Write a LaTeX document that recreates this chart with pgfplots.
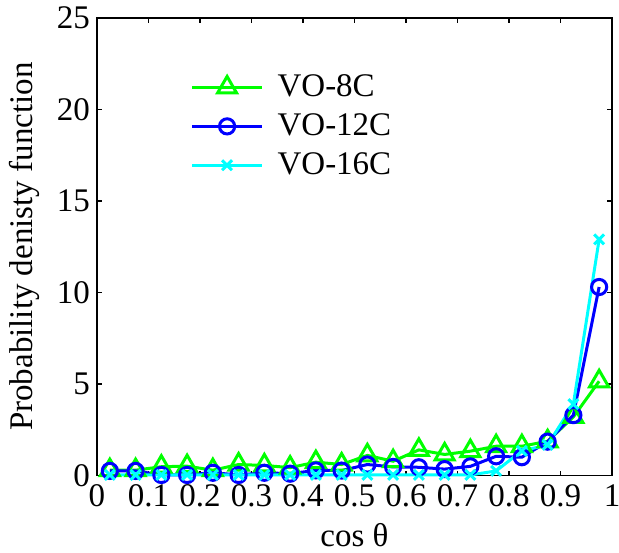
\documentclass[border=0pt]{standalone}
\usepackage{fontspec}
\setmainfont{Liberation Serif}
\usepackage{pgfplots}
\pgfplotsset{compat=1.18}
\definecolor{mgreen}{rgb}{0,1,0}
\definecolor{mblue}{rgb}{0,0,1}
\definecolor{mcyan}{rgb}{0,1,1}
\pgfplotstableread{
x g b c
0.025 0.29 0.25 0.03
0.075 0.29 0.25 0.03
0.125 0.48 0.03 0.03
0.175 0.51 0.03 0.03
0.225 0.29 0.15 0.03
0.275 0.60 0.03 0.03
0.325 0.55 0.15 0.03
0.375 0.43 0.10 0.03
0.425 0.73 0.28 0.03
0.475 0.60 0.27 0.03
0.525 1.10 0.60 0.03
0.575 0.78 0.47 0.03
0.625 1.40 0.45 0.03
0.675 1.15 0.35 0.03
0.725 1.33 0.50 0.03
0.775 1.60 1.05 0.25
0.825 1.60 1.00 1.35
0.875 1.87 1.85 1.67
0.925 3.20 3.30 3.90
0.975 5.15 10.30 12.90
}\datatable
\begin{document}
\begin{tikzpicture}[font=\fontsize{16.5pt}{19pt}\selectfont]
\begin{axis}[
  scale only axis, width=257.5pt, height=228.75pt,
  xmin=0, xmax=1, ymin=0, ymax=25,
  xtick={0,0.1,0.2,0.3,0.4,0.5,0.6,0.7,0.8,0.9,1},
  xticklabels={0,0.1,0.2,0.3,0.4,0.5,0.6,0.7,0.8,0.9,1},
  ytick={0,5,10,15,20,25},
  /pgf/number format/assume math mode=true,
  tick align=inside, major tick length=2.5pt,
  tick style={black, line width=0.6pt},
  axis line style={black, line width=0.6pt},
  xticklabel style={yshift=-1pt},
  xlabel={cos θ}, ylabel={Probability denisty function},
  xlabel style={at={(axis description cs:0.5,-0.13)}, anchor=center},
  ylabel style={at={(axis description cs:-0.14,0.5)}, anchor=center},
  clip=false,
  legend cell align=left,
  legend style={draw=none, fill=none, at={(axis description cs:0.181,0.885)}, anchor=north west, inner sep=0pt, row sep=3pt,
     nodes={inner sep=2pt}},
  legend image code/.code={\draw[mark repeat=2,mark phase=2] plot coordinates {(0pt,0pt)(17.5pt,0pt)(35pt,0pt)} ++(5pt,0pt);},
]
\addplot[mgreen, line width=1.5pt, mark=triangle, mark size=5.5pt, mark options={solid, line width=1.5pt}] table[x=x,y=g]{\datatable};
\addlegendentry{VO-8C}
\addplot[mblue, line width=1.5pt, mark=o, mark size=3.8pt, mark options={solid, line width=1.5pt}] table[x=x,y=b]{\datatable};
\addlegendentry{VO-12C}
\addplot[mcyan, line width=1.5pt, mark=x, mark size=3.5pt, mark options={solid, line width=1.5pt}] table[x=x,y=c]{\datatable};
\addlegendentry{VO-16C}
\coordinate (bbsw) at (rel axis cs:-0.1883,-0.1672);
\coordinate (bbne) at (rel axis cs:1.0136,1.0393);
\end{axis}
\pgfresetboundingbox
\useasboundingbox (bbsw) rectangle (bbne);
\end{tikzpicture}
\end{document}
